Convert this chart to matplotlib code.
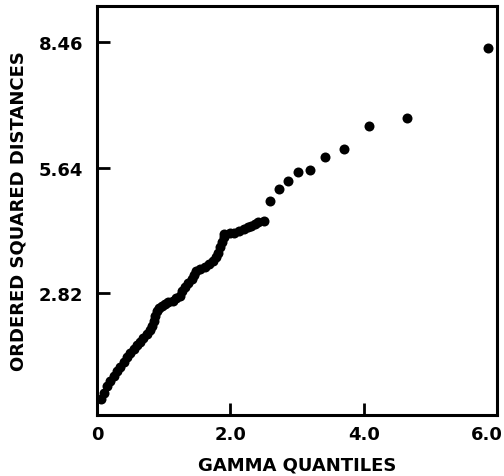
import matplotlib
matplotlib.use("Agg")
import matplotlib.pyplot as plt
import matplotlib.transforms as mtransforms

# Gamma quantiles (x) vs ordered squared distances (y)
gamma_q = [0.06, 0.10, 0.15, 0.19, 0.25, 0.30, 0.35, 0.40, 0.45, 0.49,
           0.55, 0.60, 0.65, 0.69, 0.75, 0.79, 0.82, 0.85, 0.87, 0.90,
           0.93, 0.97, 1.02, 1.07, 1.14, 1.19, 1.24, 1.28, 1.32, 1.37,
           1.42, 1.46, 1.49, 1.55, 1.62, 1.68, 1.74, 1.78, 1.82, 1.84,
           1.87, 1.90, 1.91, 1.99, 2.06, 2.13, 2.21, 2.27, 2.31, 2.37,
           2.41, 2.50,
           2.60, 2.73, 2.86, 3.01, 3.19, 3.42, 3.70, 4.08, 4.65, 5.87]
sq_dist = [0.44, 0.57, 0.73, 0.84, 0.95, 1.07, 1.16, 1.27, 1.38, 1.47,
           1.56, 1.65, 1.72, 1.81, 1.90, 1.99, 2.08, 2.19, 2.30, 2.42,
           2.48, 2.54, 2.57, 2.62, 2.65, 2.71, 2.76, 2.86, 2.95, 3.04,
           3.13, 3.22, 3.31, 3.36, 3.40, 3.47, 3.55, 3.64, 3.73, 3.85,
           3.96, 4.08, 4.15, 4.17, 4.18, 4.21, 4.26, 4.30, 4.33, 4.37,
           4.41, 4.44,
           4.88, 5.15, 5.33, 5.53, 5.59, 5.87, 6.06, 6.58, 6.75, 8.32]

x_ticks = [0, 2.0, 4.0, 6.0]
x_tick_labels = ["0", "2.0", "4.0", "6.0"]
y_ticks = [2.82, 5.64, 8.46]
y_tick_labels = ["2.82", "5.64", "8.46"]

plt.rcParams['font.family'] = ['DejaVu Sans']
plt.rcParams['font.weight'] = 'bold'

fig = plt.figure(figsize=(5.04, 4.77), dpi=100)
ax = fig.add_axes([97/504, 1 - 416/477, (497-97)/504, (416-7)/477])

ax.plot(gamma_q, sq_dist, 'o', color='black', markersize=7.2, markeredgewidth=0)

ax.set_xlim(0.03, 6.0)
ax.set_ylim(0.08, 9.27)

ax.set_xticks(x_ticks)
ax.set_xticklabels(x_tick_labels)
ax.set_yticks(y_ticks)
ax.set_yticklabels(y_tick_labels)

ax.tick_params(direction='in', length=9, width=2, labelsize=13)
ax.tick_params(axis='y', pad=10)
ax.tick_params(axis='x', pad=7)
for lab in ax.get_xticklabels() + ax.get_yticklabels():
    lab.set_fontweight('bold')
last = ax.get_xticklabels()[-1]
last.set_horizontalalignment('right')
last.set_transform(last.get_transform() +
                   mtransforms.ScaledTranslation(6/100, 0, fig.dpi_scale_trans))
for sp in ax.spines.values():
    sp.set_linewidth(2.2)

ax.set_xlabel("GAMMA QUANTILES", fontsize=13, fontweight='bold', labelpad=9)
ax.set_ylabel("ORDERED SQUARED DISTANCES", fontsize=13, fontweight='bold', labelpad=8)

fig.savefig("out.png", dpi=100, facecolor='white')
